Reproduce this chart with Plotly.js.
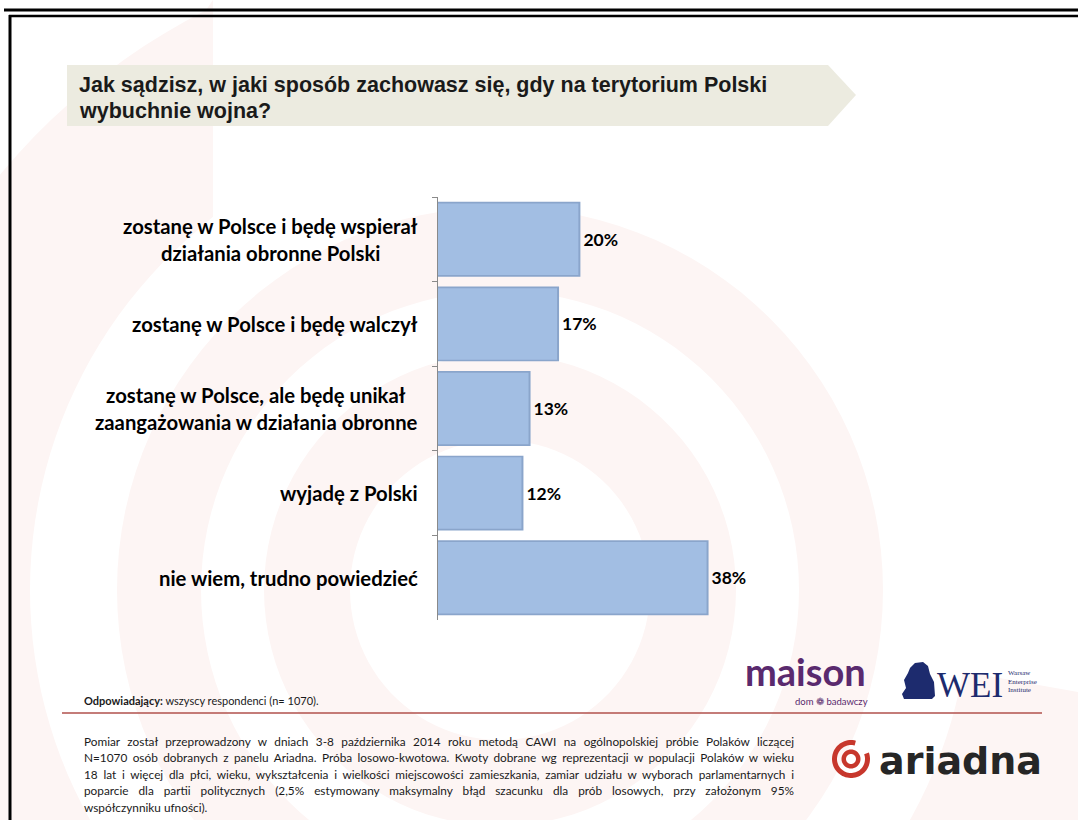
<!DOCTYPE html>
<html>
<head>
<meta charset="utf-8">
<script src="https://cdn.plot.ly/plotly-3.0.1.min.js"></script>
<style>
html,body{margin:0;padding:0;background:#fff;}
#chart{width:1078px;height:820px;}
</style>
</head>
<body>
<div id="chart"></div>
<script>
// ---------- DATA ----------
const categories = [
  'zostanę w Polsce i będę wspierał<br>działania obronne Polski',
  'zostanę w Polsce i będę walczył',
  'zostanę w Polsce, ale będę unikał<br>zaangażowania w działania obronne',
  'wyjadę z Polski',
  'nie wiem, trudno powiedzieć'
];
const values = [20, 17, 13, 12, 38];
const valueLabels = ['20%', '17%', '13%', '12%', '38%'];

const titleLines = [
  'Jak sądzisz, w jaki sposób zachowasz się, gdy na terytorium Polski',
  'wybuchnie wojna?'
];
const respondentsBold = 'Odpowiadający:';
const respondentsText = ' wszyscy respondenci (n= 1070).';
const noteLines = [
  'Pomiar został przeprowadzony w dniach 3-8 października 2014 roku metodą CAWI na ogólnopolskiej próbie Polaków liczącej',
  'N=1070 osób dobranych z panelu Ariadna. Próba losowo-kwotowa. Kwoty dobrane wg reprezentacji w populacji Polaków w wieku',
  '18 lat i więcej dla płci, wieku, wykształcenia i wielkości miejscowości zamieszkania, zamiar udziału w wyborach parlamentarnych i',
  'poparcie dla partii politycznych (2,5% estymowany maksymalny błąd szacunku dla prób losowych, przy założonym 95%',
  'współczynniku ufności).'
];

// ---------- HELPERS ----------
const W = 1078, H = 820;
const PX = x => x / W;
const PY = y => 1 - y / H;
const shapes = [];
const annotations = [];

function ringPath(cx, cy, r1, r2, n) {
  let s = '';
  for (let i = 0; i <= n; i++) {
    const a = 2 * Math.PI * i / n;
    s += (i ? ' L' : 'M') + PX(cx + r2 * Math.cos(a)).toFixed(5) + ',' + PY(cy + r2 * Math.sin(a)).toFixed(5);
  }
  s += ' Z ';
  for (let i = 0; i <= n; i++) {
    const a = -2 * Math.PI * i / n;
    s += (i ? ' L' : 'M') + PX(cx + r1 * Math.cos(a)).toFixed(5) + ',' + PY(cy + r1 * Math.sin(a)).toFixed(5);
  }
  return s + ' Z';
}
function sectorPath(cx, cy, r1, r2, a1, a2, n, clampX) {
  const pts = [];
  const pt = (r, a) => {
    let x = cx + r * Math.cos(a * Math.PI / 180), y = cy + r * Math.sin(a * Math.PI / 180);
    if (a > 200 && x > clampX) x = clampX;
    return [x, y];
  };
  for (let i = 0; i <= n; i++) pts.push(pt(r2, a1 + (a2 - a1) * i / n));
  for (let i = n; i >= 0; i--) pts.push(pt(r1, a1 + (a2 - a1) * i / n));
  return pts.map((p, i) => (i ? 'L' : 'M') + PX(p[0]).toFixed(5) + ',' + PY(p[1]).toFixed(5)).join(' ') + ' Z';
}
function poly(points) {
  return points.map((p, i) => (i ? 'L' : 'M') + PX(p[0]).toFixed(5) + ',' + PY(p[1]).toFixed(5)).join(' ') + ' Z';
}

// ---------- WATERMARK ----------
const wm = '#fdf5f4';
shapes.push({type:'path', xref:'paper', yref:'paper', layer:'below', path: sectorPath(500, 590, 470, 650, 10, 262, 120, 213), fillcolor: wm, line:{width:0}});
shapes.push({type:'path', xref:'paper', yref:'paper', layer:'below', path: ringPath(500, 590, 299, 383, 120), fillcolor: wm, line:{width:0}});
shapes.push({type:'path', xref:'paper', yref:'paper', layer:'below', path: ringPath(500, 590, 150, 236, 100), fillcolor: wm, line:{width:0}});

// ---------- FRAME ----------
shapes.push({type:'line', xref:'paper', yref:'paper', x0:PX(4), x1:PX(1078), y0:PY(10), y1:PY(10), line:{color:'#000', width:3}});
shapes.push({type:'line', xref:'paper', yref:'paper', x0:PX(9), x1:PX(1078), y0:PY(16), y1:PY(16), line:{color:'#000', width:2.5}});
shapes.push({type:'line', xref:'paper', yref:'paper', x0:PX(10), x1:PX(10), y0:PY(15), y1:PY(822), line:{color:'#000', width:3}});

// ---------- TITLE BOX ----------
shapes.push({type:'path', xref:'paper', yref:'paper', layer:'below',
  path: poly([[67,65],[828,65],[856,95],[828,126],[67,126]]), fillcolor:'#ecebe0', line:{width:0}});
titleLines.forEach((t, i) => annotations.push({
  xref:'paper', yref:'paper', x:PX(77), y:PY(85 + i * 26), xanchor:'left', yanchor:'middle',
  text:'<b>' + t + '</b>', showarrow:false, align:'left',
  font:{family:'Liberation Sans, Arial, sans-serif', size:21.5, color:'#1a1a1a'}
}));

// ---------- CATEGORY LABELS (centered blocks, right edge at 418px) ----------
const ctx = document.createElement('canvas').getContext('2d');
const labelFont = {family:'Lato', size:20.3};
ctx.font = 'bold ' + labelFont.size + 'px ' + labelFont.family;
categories.forEach(cat => {
  const lines = cat.split('<br>');
  const wmax = Math.max(...lines.map(l => ctx.measureText(l).width));
  const cx = 418 - wmax / 2;
  lines.forEach((ln, j) => annotations.push({
    xref:'paper', yref:'y', x:PX(cx), y:cat, xanchor:'center', yanchor:'middle',
    yshift: ((lines.length - 1) / 2 - j) * 27,
    text:'<b>' + ln + '</b>', showarrow:false,
    font:{family:labelFont.family, size:labelFont.size, color:'#000'}
  }));
});

// ---------- FOOTER ----------
annotations.push({xref:'paper', yref:'paper', x:PX(82), y:PY(700), xanchor:'left', yanchor:'middle',
  text:'<b>' + respondentsBold + '</b>' + respondentsText, showarrow:false,
  font:{family:'Lato', size:11, color:'#1a1a1a'}});
shapes.push({type:'line', xref:'paper', yref:'paper', x0:PX(62), x1:PX(1042), y0:PY(713), y1:PY(713), line:{color:'#b0504c', width:1.5}});
noteLines.forEach((t, i) => annotations.push({
  xref:'paper', yref:'paper', x:PX(82), y:PY(741 + i * 16.6), xanchor:'left', yanchor:'middle',
  text:t, showarrow:false, align:'left',
  font:{family:'Lato', size:11.8, color:'#1a1a1a'}
}));

// ---------- LOGOS ----------
annotations.push({xref:'paper', yref:'paper', x:PX(805), y:PY(671), xanchor:'center', yanchor:'middle',
  text:'<b>maison</b>', showarrow:false, borderpad:0, font:{family:'Lato', size:38, color:'#5a2a6e'}});
annotations.push({xref:'paper', yref:'paper', x:PX(869), y:PY(701), xanchor:'right', yanchor:'middle',
  text:'dom ❁ badawczy', showarrow:false, borderpad:0, font:{family:'Lato', size:9.5, color:'#5a2a6e'}});
// statue silhouette (rough)
shapes.push({type:'path', xref:'paper', yref:'paper',
  path: poly([[910,668],[915,663],[923,662],[928,666],[930,674],[934,682],[935,696],[932,699],[904,699],[902,694],[906,688],[904,680],[908,673]]),
  fillcolor:'#1d2b6e', line:{width:0}});
annotations.push({xref:'paper', yref:'paper', x:PX(935), y:PY(685), xanchor:'left', yanchor:'middle',
  text:'WEI', showarrow:false, font:{family:'Liberation Serif, Times New Roman, serif', size:35, color:'#1d2b6e'}});
['Warsaw','Enterprise','Institute'].forEach((t, i) => annotations.push({
  xref:'paper', yref:'paper', x:PX(1006), y:PY(673 + i * 8.5), xanchor:'left', yanchor:'middle',
  text:t, showarrow:false, font:{family:'Liberation Serif, serif', size:7, color:'#1d2b6e'}}));
// ariadna icon
shapes.push({type:'path', xref:'paper', yref:'paper', path: sectorPath(851, 759, 14, 19, -20, 285, 60, 9999), fillcolor:'#c7372c', line:{width:0}});
shapes.push({type:'path', xref:'paper', yref:'paper', path: ringPath(851, 759, 5, 9.5, 40), fillcolor:'#c7372c', line:{width:0}});
annotations.push({xref:'paper', yref:'paper', x:PX(877), y:PY(761), xanchor:'left', yanchor:'middle',
  text:'<b>ariadna</b>', showarrow:false, font:{family:'DejaVu Sans', size:38, color:'#262626'}});

// ---------- BARS ----------
const edgeTrace = {
  type:'bar', orientation:'h', y:categories, x:values, width:0.885,
  marker:{color:'#8aa5cb', line:{width:0}},
  text:valueLabels, textposition:'outside', cliponaxis:false,
  textfont:{family:'Lato', size:17.5, color:'#000', weight:'bold'},
  hoverinfo:'skip'
};
const faceTrace = {
  type:'bar', orientation:'h', y:categories, x:values.map(v => v - 0.28), width:0.845,
  marker:{color:'#a2bee3', line:{width:0}}, hoverinfo:'skip', textposition:'none'
};

const layout = {
  width:W, height:H, margin:{l:0, r:0, t:0, b:0},
  paper_bgcolor:'#ffffff', plot_bgcolor:'rgba(0,0,0,0)',
  showlegend:false, barmode:'overlay',
  xaxis:{domain:[PX(438), PX(800)], range:[0, 362 / 7.12], visible:false, fixedrange:true},
  yaxis:{domain:[PY(620), PY(197)], type:'category', categoryarray:categories, range:[4.5, -0.5],
    showticklabels:false, tickson:'boundaries', ticks:'outside', ticklen:5, tickcolor:'#8a8a8a',
    showline:true, linecolor:'#8a8a8a', linewidth:1, showgrid:false, zeroline:false, fixedrange:true},
  shapes:shapes, annotations:annotations
};

Plotly.newPlot('chart', [edgeTrace, faceTrace], layout, {displayModeBar:false, staticPlot:true}).then(() => {
  // justify note lines 1-4 to the right edge (792px) using word spacing
  try {
    const texts = document.querySelectorAll('.annotation-text');
    texts.forEach(el => {
      const t = el.textContent;
      const idx = noteLines.indexOf(t);
      if (idx >= 0 && idx < noteLines.length - 1) {
        const w = el.getComputedTextLength();
        const spaces = (t.match(/ /g) || []).length;
        const extra = (792 - 82 - w) / spaces;
        if (extra > 0) el.style.wordSpacing = extra + 'px';
      }
    });
  } catch (e) {}
});
</script>
</body>
</html>
